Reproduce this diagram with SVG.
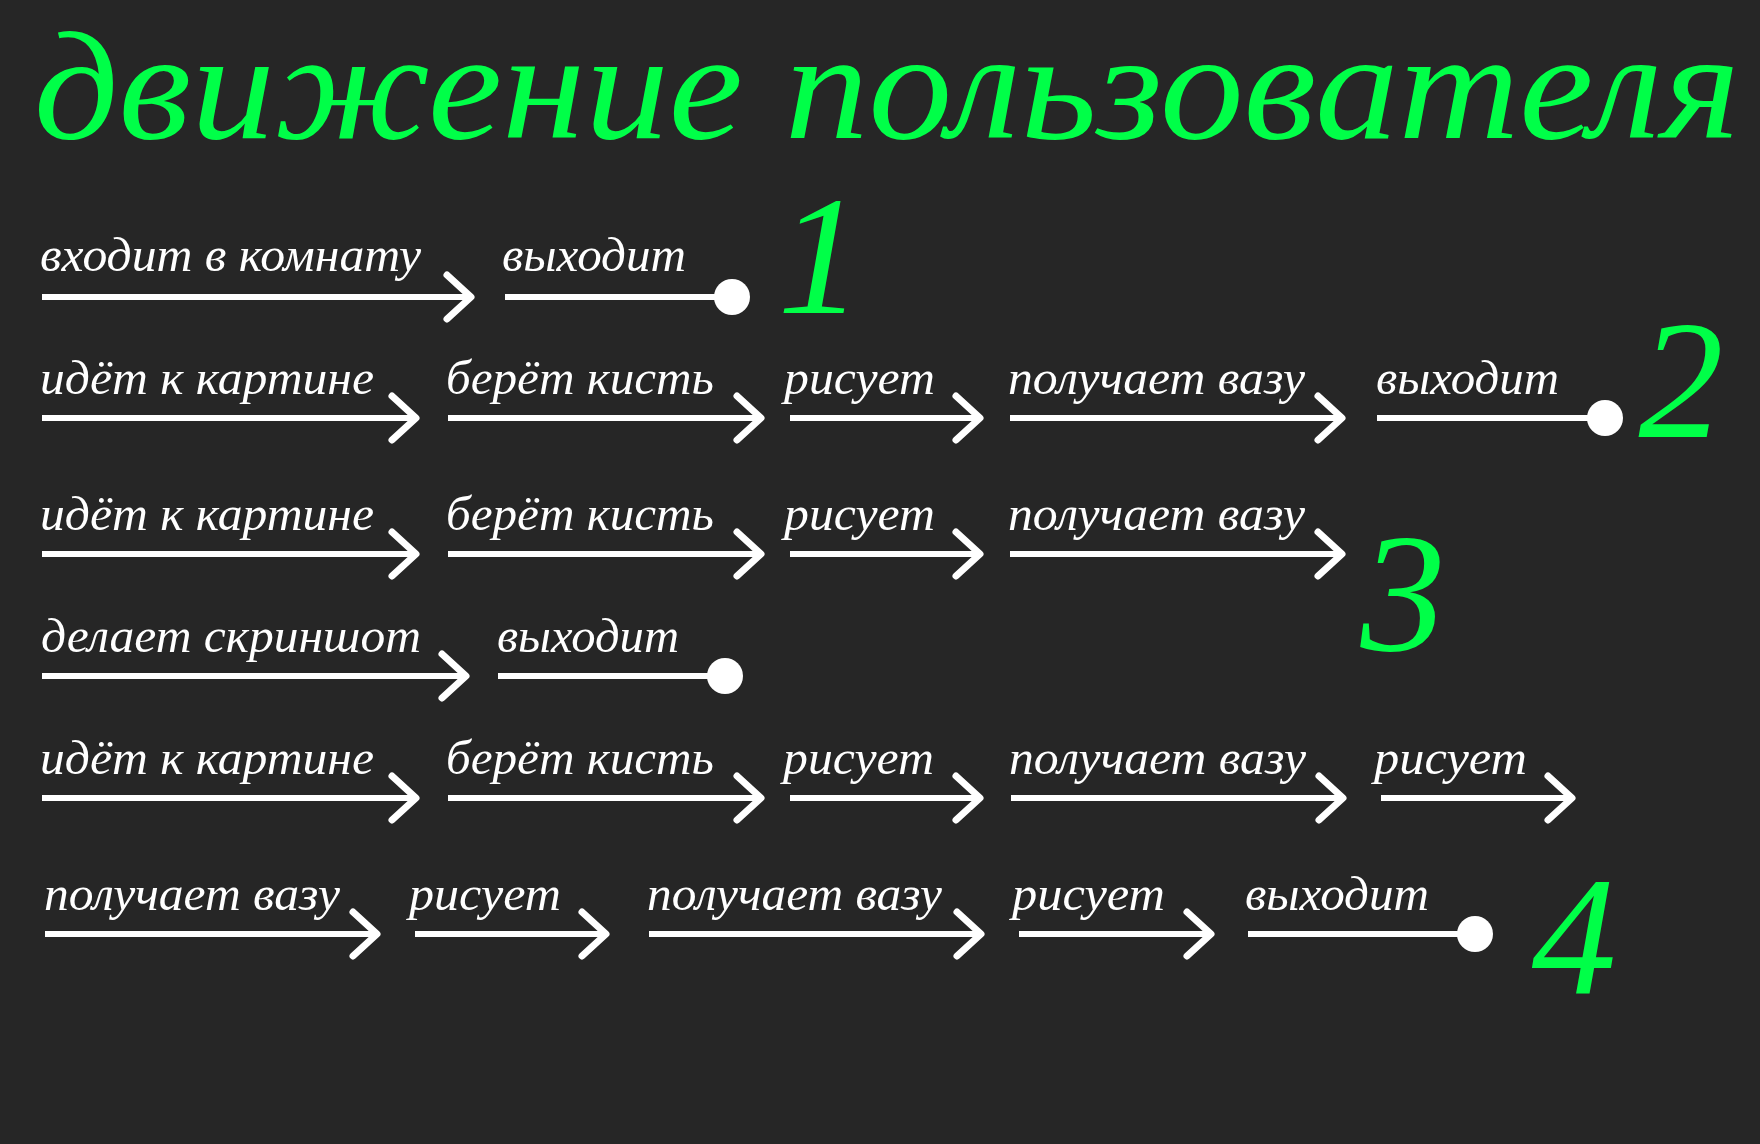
<svg xmlns="http://www.w3.org/2000/svg" width="1760" height="1144" viewBox="0 0 1760 1144">
<style>
.bg{fill:#262626}
.title{font-family:"Liberation Serif","DejaVu Serif",serif;font-style:italic;font-size:154px;fill:#00ff48}
.num{font-family:"Liberation Serif","DejaVu Serif",serif;font-style:italic;font-size:170px;fill:#00ff48;text-anchor:middle}
.lbl{font-family:"Liberation Serif","DejaVu Serif",serif;font-style:italic;font-size:48px;fill:#ffffff}
.ln{stroke:#ffffff;stroke-width:6;fill:none}
.arr{marker-end:url(#chev)}
.end{marker-end:url(#dot)}
</style>
<defs>
<marker id="chev" markerUnits="userSpaceOnUse" viewBox="-32 -30 40 60" markerWidth="40" markerHeight="60" refX="0" refY="0" orient="auto" overflow="visible">
<path d="M-24,-22 L0,0 L-24,22" fill="none" stroke="#ffffff" stroke-width="7" stroke-linecap="round" stroke-linejoin="round"/>
</marker>
<marker id="dot" markerUnits="userSpaceOnUse" viewBox="-20 -20 40 40" markerWidth="40" markerHeight="40" refX="0" refY="0" orient="auto" overflow="visible">
<circle cx="0" cy="0" r="18" fill="#ffffff"/>
</marker>
</defs>
<rect class="bg" x="0" y="0" width="1760" height="1144"/>
<g id="title"><text class="title" x="34" y="138" textLength="1706" lengthAdjust="spacingAndGlyphs">движение пользователя</text></g>

<g id="connectors">
<!-- row 1 -->
<line class="ln arr" x1="42" y1="297" x2="471" y2="297"/>
<line class="ln end" x1="505" y1="297" x2="732" y2="297"/>
<!-- row 2 -->
<line class="ln arr" x1="42" y1="418" x2="416" y2="418"/>
<line class="ln arr" x1="448" y1="418" x2="761" y2="418"/>
<line class="ln arr" x1="790" y1="418" x2="980" y2="418"/>
<line class="ln arr" x1="1010" y1="418" x2="1342" y2="418"/>
<line class="ln end" x1="1377" y1="418" x2="1605" y2="418"/>
<!-- row 3 -->
<line class="ln arr" x1="42" y1="554" x2="416" y2="554"/>
<line class="ln arr" x1="448" y1="554" x2="761" y2="554"/>
<line class="ln arr" x1="790" y1="554" x2="980" y2="554"/>
<line class="ln arr" x1="1010" y1="554" x2="1342" y2="554"/>
<!-- row 4 -->
<line class="ln arr" x1="42" y1="676" x2="466" y2="676"/>
<line class="ln end" x1="498" y1="676" x2="725" y2="676"/>
<!-- row 5 -->
<line class="ln arr" x1="42" y1="798" x2="416" y2="798"/>
<line class="ln arr" x1="448" y1="798" x2="761" y2="798"/>
<line class="ln arr" x1="790" y1="798" x2="980" y2="798"/>
<line class="ln arr" x1="1011" y1="798" x2="1343" y2="798"/>
<line class="ln arr" x1="1381" y1="798" x2="1572" y2="798"/>
<!-- row 6 -->
<line class="ln arr" x1="45" y1="934" x2="377" y2="934"/>
<line class="ln arr" x1="415" y1="934" x2="606" y2="934"/>
<line class="ln arr" x1="649" y1="934" x2="981" y2="934"/>
<line class="ln arr" x1="1019" y1="934" x2="1211" y2="934"/>
<line class="ln end" x1="1248" y1="934" x2="1475" y2="934"/>
</g>

<g id="row1">
<text class="lbl" x="40" y="271" textLength="381" lengthAdjust="spacingAndGlyphs">входит в комнату</text>
<text class="lbl" x="502" y="271" textLength="184" lengthAdjust="spacingAndGlyphs">выходит</text>
<text class="num" x="820" y="313">1</text>
</g>
<g id="row2">
<text class="lbl" x="40" y="394" textLength="334" lengthAdjust="spacingAndGlyphs">идёт к картине</text>
<text class="lbl" x="446" y="394" textLength="268" lengthAdjust="spacingAndGlyphs">берёт кисть</text>
<text class="lbl" x="784" y="394" textLength="151" lengthAdjust="spacingAndGlyphs">рисует</text>
<text class="lbl" x="1008" y="394" textLength="297" lengthAdjust="spacingAndGlyphs">получает вазу</text>
<text class="lbl" x="1376" y="394" textLength="183" lengthAdjust="spacingAndGlyphs">выходит</text>
<text class="num" x="1681" y="437">2</text>
</g>
<g id="row3">
<text class="lbl" x="40" y="530" textLength="334" lengthAdjust="spacingAndGlyphs">идёт к картине</text>
<text class="lbl" x="446" y="530" textLength="268" lengthAdjust="spacingAndGlyphs">берёт кисть</text>
<text class="lbl" x="784" y="530" textLength="151" lengthAdjust="spacingAndGlyphs">рисует</text>
<text class="lbl" x="1008" y="530" textLength="297" lengthAdjust="spacingAndGlyphs">получает вазу</text>
<text class="num" x="1403" y="650">3</text>
</g>
<g id="row4">
<text class="lbl" x="41" y="652" textLength="380" lengthAdjust="spacingAndGlyphs">делает скриншот</text>
<text class="lbl" x="497" y="652" textLength="182" lengthAdjust="spacingAndGlyphs">выходит</text>
</g>
<g id="row5">
<text class="lbl" x="40" y="774" textLength="334" lengthAdjust="spacingAndGlyphs">идёт к картине</text>
<text class="lbl" x="446" y="774" textLength="268" lengthAdjust="spacingAndGlyphs">берёт кисть</text>
<text class="lbl" x="783" y="774" textLength="151" lengthAdjust="spacingAndGlyphs">рисует</text>
<text class="lbl" x="1009" y="774" textLength="297" lengthAdjust="spacingAndGlyphs">получает вазу</text>
<text class="lbl" x="1374" y="774" textLength="153" lengthAdjust="spacingAndGlyphs">рисует</text>
</g>
<g id="row6">
<text class="lbl" x="44" y="910" textLength="296" lengthAdjust="spacingAndGlyphs">получает вазу</text>
<text class="lbl" x="409" y="910" textLength="152" lengthAdjust="spacingAndGlyphs">рисует</text>
<text class="lbl" x="647" y="910" textLength="295" lengthAdjust="spacingAndGlyphs">получает вазу</text>
<text class="lbl" x="1012" y="910" textLength="153" lengthAdjust="spacingAndGlyphs">рисует</text>
<text class="lbl" x="1245" y="910" textLength="184" lengthAdjust="spacingAndGlyphs">выходит</text>
<text class="num" x="1574" y="994">4</text>
</g>
</svg>
